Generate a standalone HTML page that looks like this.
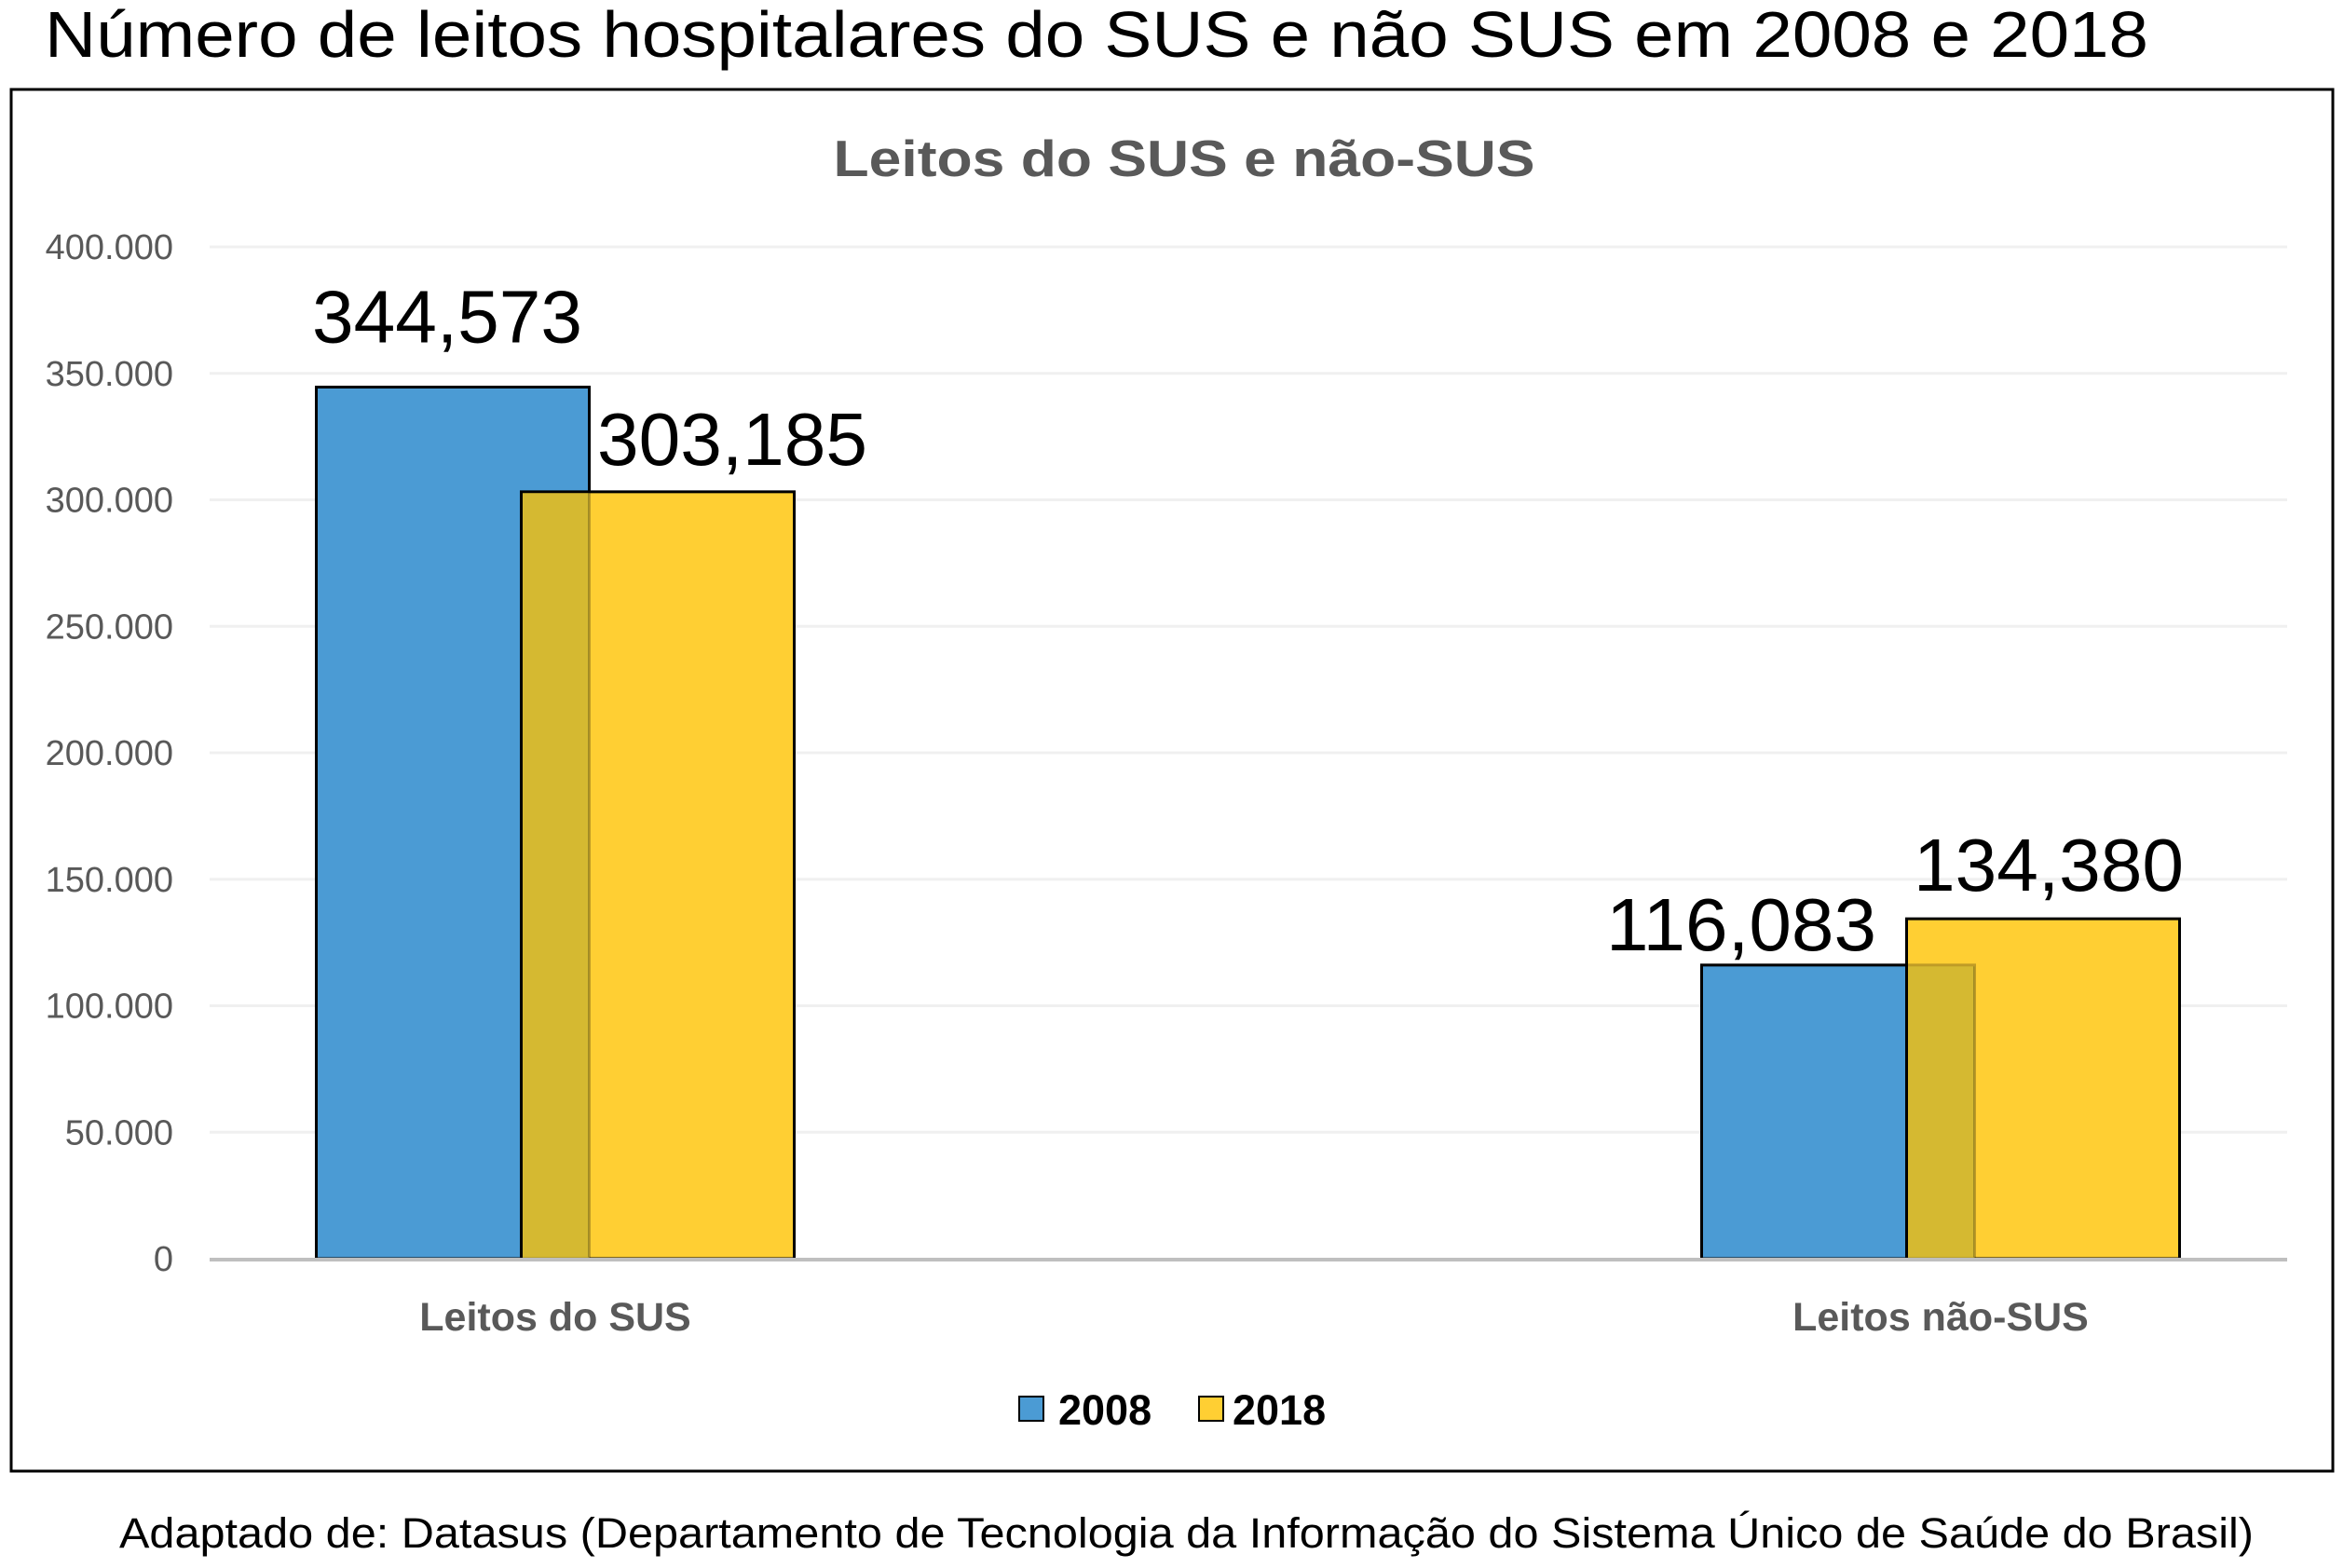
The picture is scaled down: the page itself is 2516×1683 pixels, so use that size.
<!DOCTYPE html>
<html><head><meta charset="utf-8"><style>
html,body{margin:0;padding:0;background:#fff;}
svg{display:block;font-family:"Liberation Sans",Arial,sans-serif;}
</style></head><body>
<svg id="chart" width="2516" height="1683" viewBox="0 0 2516 1683">
<text x="48" y="61" font-size="70" fill="#000" textLength="2258" lengthAdjust="spacingAndGlyphs">Número de leitos hospitalares do SUS e não SUS em 2008 e 2018</text>
<rect x="12" y="96" width="2492" height="1483" fill="#fff" stroke="#000" stroke-width="3"/>
<text x="1271" y="189" font-size="55" font-weight="bold" fill="#595959" text-anchor="middle" textLength="753" lengthAdjust="spacingAndGlyphs">Leitos do SUS e não-SUS</text>
<g id="grid"></g><g id="bars"></g><g id="labels"></g>
<rect x="1094" y="1499" width="26" height="26" fill="#4b9bd4" stroke="#000" stroke-width="2"/>
<text x="1136" y="1529" font-size="45" font-weight="bold" fill="#000">2008</text>
<rect x="1287" y="1499" width="26" height="26" fill="#ffcf33" stroke="#000" stroke-width="2"/>
<text x="1323" y="1529" font-size="45" font-weight="bold" fill="#000">2018</text>
<text x="128" y="1661" font-size="45" fill="#000" textLength="2291" lengthAdjust="spacingAndGlyphs">Adaptado de: Datasus (Departamento de Tecnologia da Informação do Sistema Único de Saúde do Brasil)</text>
</svg>
<script>
const categories = ["Leitos do SUS", "Leitos não-SUS"];
const values2008 = [344573, 116083];
const values2018 = [303185, 134380];
const yTicks = [0, 50000, 100000, 150000, 200000, 250000, 300000, 350000, 400000];
const yTickLabels = ["0", "50.000", "100.000", "150.000", "200.000", "250.000", "300.000", "350.000", "400.000"];
const valueLabels2008 = ["344,573", "116,083"];
const valueLabels2018 = ["303,185", "134,380"];

const NS = "http://www.w3.org/2000/svg";
const plotL = 225, plotR = 2455, y0 = 1351, yTop = 265, yMax = 400000;
const groupCenters = [596, 2083];
const barW = 293, barShift = 110;
const lbl2008 = [{dx: -6, dy: -48}, {dx: -104, dy: -16}];
const lbl2018 = [{dx: 80, dy: -29}, {dx: 6, dy: -30}];
function y(v){ return y0 - v / yMax * (y0 - yTop); }
function mk(tag, attrs, parent){ const e = document.createElementNS(NS, tag); for (const k in attrs) e.setAttribute(k, attrs[k]); parent.appendChild(e); return e; }
const grid = document.getElementById('grid'), bars = document.getElementById('bars'), labels = document.getElementById('labels');

yTicks.forEach((t, i) => {
  if (t > 0) {
    const g = mk('line', {x1: plotL, x2: plotR, y1: y(t), y2: y(t), stroke: '#f0f0f0', 'stroke-width': 3}, grid);
    
    
  }
  const tl = mk('text', {x: 186, y: y(t) + 13, 'font-size': 38, fill: '#595959', 'text-anchor': 'end'}, grid);
  tl.textContent = yTickLabels[i];
  
  
});

categories.forEach((c, i) => {
  const cx = groupCenters[i];
  const bx = cx - barShift - barW / 2, yx = cx + barShift - barW / 2;
  const b = mk('rect', {x: bx, y: y(values2008[i]), width: barW, height: y0 - y(values2008[i]), fill: '#4b9bd4', stroke: '#000', 'stroke-width': 3}, bars);
  
  
  const yb = mk('rect', {x: yx, y: y(values2018[i]), width: barW, height: y0 - y(values2018[i]), fill: '#ffcf33', stroke: '#000', 'stroke-width': 3}, bars);
  
  
  const ovTop = Math.max(y(values2008[i]), y(values2018[i]));
  const ov = mk('rect', {x: yx + 1.5, y: ovTop + 1.5, width: bx + barW - yx - 1.5, height: y0 - ovTop - 1.5, fill: '#d5b931'}, bars);
  
  
  const ol = mk('rect', {x: bx, y: y(values2008[i]), width: barW, height: y0 - y(values2008[i]), fill: 'none', stroke: '#000', 'stroke-width': 3, 'stroke-opacity': 0.25}, bars);
  
  

  const l1 = mk('text', {x: bx + barW / 2 + lbl2008[i].dx, y: y(values2008[i]) + lbl2008[i].dy, 'font-size': 80, fill: '#000', 'text-anchor': 'middle', textLength: 290, lengthAdjust: 'spacingAndGlyphs'}, labels);
  l1.textContent = valueLabels2008[i];
  
  
  const l2 = mk('text', {x: yx + barW / 2 + lbl2018[i].dx, y: y(values2018[i]) + lbl2018[i].dy, 'font-size': 80, fill: '#000', 'text-anchor': 'middle', textLength: 290, lengthAdjust: 'spacingAndGlyphs'}, labels);
  l2.textContent = valueLabels2018[i];
  
  
  const cl = mk('text', {x: cx, y: 1428, 'font-size': 43, 'font-weight': 'bold', fill: '#595959', 'text-anchor': 'middle'}, labels);
  cl.textContent = c;
  
  
});
const ax = mk('line', {x1: plotL, x2: plotR, y1: y0 + 1, y2: y0 + 1, stroke: '#bfbfbf', 'stroke-width': 4}, bars);


</script>
</body></html>
